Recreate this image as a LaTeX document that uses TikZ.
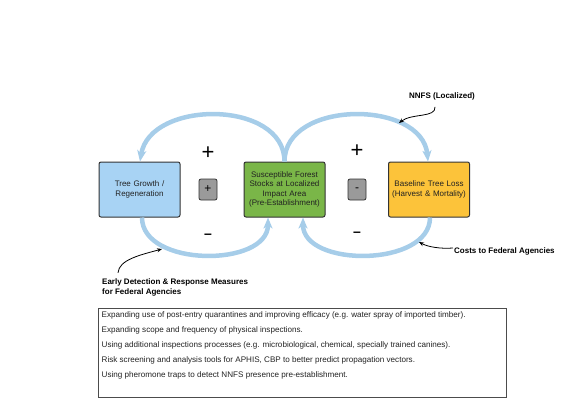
\documentclass[tikz,border=0pt]{standalone}
\usepackage{fontspec}
\setmainfont{Liberation Sans}
\usetikzlibrary{arrows.meta}
\definecolor{loopblue}{HTML}{A6CDE9}
\definecolor{treeblue}{HTML}{A8D3F4}
\definecolor{forestgreen}{HTML}{7AB648}
\definecolor{lossorange}{HTML}{FCC33A}
\definecolor{signgrey}{HTML}{9A9A9A}
\definecolor{edgedark}{HTML}{333333}
\definecolor{inktext}{HTML}{222222}
\tikzset{
  stockbox/.style={draw=edgedark, line width=1pt, rounded corners=2pt,
    minimum width=81pt, minimum height=55pt, align=center, text width=78pt,
    inner sep=1pt, font=\fontsize{8}{9.6}\selectfont, text=inktext},
  signbox/.style={draw=edgedark, line width=0.8pt, rounded corners=2pt, fill=signgrey,
    minimum width=18pt, minimum height=21pt, inner sep=0pt, font=\fontsize{12}{12}\selectfont},
  bigsign/.style={inner sep=0pt, font=\fontsize{22}{22}\selectfont},
  loopline/.style={draw=loopblue, line width=4.5pt,
    -{Stealth[length=11pt,width=9pt,inset=3pt]}},
  pointer/.style={draw=black, line width=0.8pt, -{Stealth[length=5pt,width=4pt]}},
  tag/.style={inner sep=0pt, font=\fontsize{8}{9.6}\selectfont\bfseries, align=left},
  listbox/.style={draw=gray!60!black, line width=1pt, minimum width=408pt, minimum height=89pt, inner sep=0pt},
}
\begin{document}
\begin{tikzpicture}[x=1pt,y=-1pt]
\useasboundingbox (0,0) rectangle (578,415);
% boxes
\node[stockbox, fill=treeblue] (tg) at (139.5,189.5) {Tree Growth /\\Regeneration};
\node[stockbox, fill=forestgreen] (fs) at (284.5,189.5) {Susceptible Forest\\Stocks at Localized\\Impact Area\\(Pre-Establishment)};
\node[stockbox, fill=lossorange] (bl) at (429,189.5) {Baseline Tree Loss\\(Harvest \& Mortality)};
% signs
\node[signbox] (sp) at (208,189.5) {+};
\node[signbox] (sm) at (357,189.5) {-};
\node[bigsign] (pl) at (208,153) {+};
\node[bigsign] (pr) at (357,151) {+};
\node[bigsign, font=\fontsize{14}{14}\selectfont\bfseries] (ml) at (208,236) {–};
\node[bigsign, font=\fontsize{14}{14}\selectfont\bfseries] (mr) at (357,234) {–};
% loops
\draw[loopline] (fs.north) .. controls +(0,-62) and +(10,-62) .. ([xshift=0.5pt]tg.north);
\draw[loopline] ([xshift=2.5pt]tg.south) .. controls +(0,50) and +(0,50) .. ([xshift=-16.5pt]fs.south);
\draw[loopline] (fs.north) .. controls +(0,-62) and +(-6,-62) .. ([xshift=-1pt]bl.north);
\draw[loopline] ([xshift=1pt]bl.south) .. controls +(0,50) and +(0,50) .. ([xshift=18.5pt]fs.south);
% labels
\node[tag] (nn) at (442,96) {NNFS (Localized)};
\node[tag, anchor=west] (cf) at (454,251) {Costs to Federal Agencies};
\node[tag, anchor=west] (ed) at (102,287.5) {Early Detection \& Response Measures\\for Federal Agencies};
\coordinate (nnt) at (399,123);
\coordinate (cft) at (419,242);
\coordinate (edt) at (162,249);
\draw[pointer] ([shift={(-7,7)}]nn.south) .. controls +(1,11) and +(13,-10) .. (nnt);
\draw[pointer] ([shift={(-1,-3)}]cf.west) .. controls +(-12,1) and +(9,5) .. (cft);
\draw[pointer] ([shift={(16,-6)}]ed.north west) .. controls +(1,-13) and +(-22,6) .. (edt);
% list
\node[listbox] (lb) at (302,352.5) {};
\node[anchor=north west, align=left, inner sep=0pt, text=inktext,
  font=\fontsize{8.1}{15}\selectfont] (lt) at ([shift={(4,4)}]lb.north west)
  {Expanding use of post-entry quarantines and improving efficacy (e.g. water spray of imported timber).\\
   Expanding scope and frequency of physical inspections.\\
   Using additional inspections processes (e.g. microbiological, chemical, specially trained canines).\\
   Risk screening and analysis tools for APHIS, CBP to better predict propagation vectors.\\
   Using pheromone traps to detect NNFS presence pre-establishment.};
\end{tikzpicture}
\end{document}
